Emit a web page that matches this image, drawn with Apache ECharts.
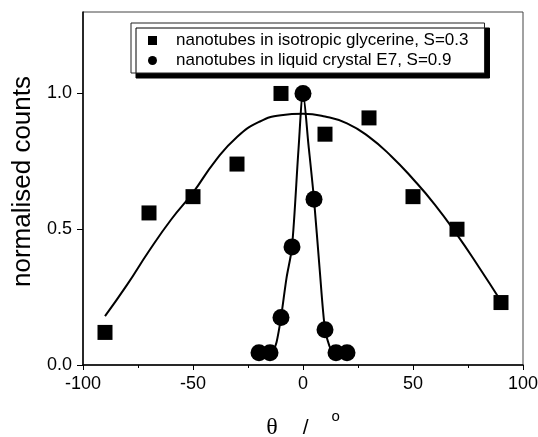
<!DOCTYPE html>
<html>
<head>
<meta charset="utf-8">
<script src="https://cdn.jsdelivr.net/npm/echarts@6/dist/echarts.min.js"></script>
<style>
html, body { margin: 0; padding: 0; background: #fff; }
#main { width: 538px; height: 437px; }
</style>
</head>
<body>
<div id="main"></div>
<script>
// measured points
var glyX = [-90, -70, -50, -30, -10, 10, 30, 50, 70, 90];
var glyY = [0.12, 0.56, 0.62, 0.74, 1.0, 0.85, 0.91, 0.62, 0.50, 0.23];
var lcX = [-20, -15, -10, -5, 0, 5, 10, 15, 20];
var lcY = [0.045, 0.045, 0.175, 0.435, 1.0, 0.61, 0.13, 0.045, 0.045];

// fit curves
var glyFitX = [-90, -80, -70, -60, -50, -40, -30, -20, -10, 0, 10, 20, 30, 40, 50, 60, 70, 80, 90];
var glyFitY = [0.18, 0.295, 0.42, 0.535, 0.635, 0.75, 0.84, 0.895, 0.92, 0.925, 0.915, 0.89, 0.84, 0.77, 0.685, 0.59, 0.48, 0.36, 0.235];
var lcFitX = [-14, -12, -10, -7.5, -5, -2, 0, 2.5, 5, 7.5, 10, 12, 13.5];
var lcFitY = [0.04, 0.085, 0.175, 0.32, 0.435, 0.8, 1.0, 0.81, 0.61, 0.36, 0.13, 0.07, 0.045];

var xTicks = [-100, -50, 0, 50, 100];
var yTicks = [0.0, 0.5, 1.0];

var name1 = 'nanotubes in isotropic glycerine, S=0.3';
var name2 = 'nanotubes in liquid crystal E7, S=0.9';

function pairs(xs, ys) {
    var out = [];
    for (var i = 0; i < xs.length; i++) out.push([xs[i], ys[i]]);
    return out;
}

var font = 'Liberation Sans, Arial, sans-serif';

var option = {
    animation: false,
    backgroundColor: '#fff',
    grid: {
        left: 83, right: 15, top: 12, bottom: 72,
        outerBoundsMode: 'none',
        containLabel: false,
        show: true,
        borderColor: '#444',
        borderWidth: 1
    },
    legend: {
        orient: 'vertical',
        left: 131,
        top: 23,
        padding: [9, 16, 4, 17],
        itemGap: 3,
        itemWidth: 9,
        itemHeight: 9,
        borderColor: '#222',
        borderWidth: 1,
        backgroundColor: '#fff',
        shadowColor: '#000',
        shadowBlur: 0,
        shadowOffsetX: 5,
        shadowOffsetY: 5,
        textStyle: { fontFamily: font, fontSize: 17, color: '#000', padding: [0, 0, 0, 14] },
        data: [
            { name: name1, icon: 'rect' },
            { name: name2, icon: 'circle' }
        ]
    },
    xAxis: {
        type: 'value',
        min: -100, max: 100, interval: 50,
        name: '{t|θ}{s|/}{d|o}',
        nameLocation: 'middle',
        nameGap: 42,
        nameTextStyle: {
            rich: {
                t: { fontFamily: 'Liberation Serif, serif', fontSize: 24, lineHeight: 42, color: '#000' },
                s: { fontFamily: font, fontSize: 21, lineHeight: 42, padding: [0, 23, 0, 25], color: '#000' },
                d: { fontFamily: font, fontSize: 15, lineHeight: 15, padding: [2, 0, 0, 0], verticalAlign: 'top', color: '#000' }
            }
        },
        axisLine: { onZero: false, lineStyle: { color: '#000', width: 1.5 } },
        axisTick: { length: 5, lineStyle: { color: '#000', width: 1 } },
        minorTick: { show: true, splitNumber: 2, length: 3, lineStyle: { color: '#000', width: 1 } },
        splitLine: { show: false },
        axisLabel: {
            margin: 10, fontFamily: font, fontSize: 18, color: '#000',
            formatter: function (v) { return xTicks.indexOf(v) >= 0 ? String(v) : ''; }
        }
    },
    yAxis: {
        type: 'value',
        min: 0, max: 1.3, interval: 0.5,
        name: 'normalised counts',
        nameLocation: 'middle',
        nameGap: 45,
        nameTextStyle: { fontFamily: font, fontSize: 26, color: '#000', padding: [0, 0, 0, 14] },
        axisLine: { onZero: false, lineStyle: { color: '#000', width: 1.5 } },
        axisTick: { length: 6, lineStyle: { color: '#000', width: 1 } },
        splitLine: { show: false },
        axisLabel: {
            margin: 11, fontFamily: font, fontSize: 18, color: '#000',
            showMaxLabel: false,
            formatter: function (v) {
                for (var i = 0; i < yTicks.length; i++) {
                    if (Math.abs(yTicks[i] - v) < 1e-9) return yTicks[i].toFixed(1);
                }
                return '';
            }
        }
    },
    series: [
        {
            name: 'glyFit', type: 'line', data: pairs(glyFitX, glyFitY),
            smooth: true, showSymbol: false, symbol: 'none',
            lineStyle: { color: '#000', width: 2 }, z: 1
        },
        {
            name: 'lcFit', type: 'line', data: pairs(lcFitX, lcFitY),
            smooth: 0.3, showSymbol: false, symbol: 'none',
            lineStyle: { color: '#000', width: 2 }, z: 1
        },
        {
            name: name1, type: 'scatter', data: pairs(glyX, glyY),
            symbol: 'rect', symbolSize: 15,
            itemStyle: { color: '#000', opacity: 1 }, z: 3
        },
        {
            name: name2, type: 'scatter', data: pairs(lcX, lcY),
            symbol: 'circle', symbolSize: 17,
            itemStyle: { color: '#000', opacity: 1 }, z: 3
        }
    ]
};

var chart = echarts.init(document.getElementById('main'), null, { renderer: 'canvas' });
chart.setOption(option);
</script>
</body>
</html>
